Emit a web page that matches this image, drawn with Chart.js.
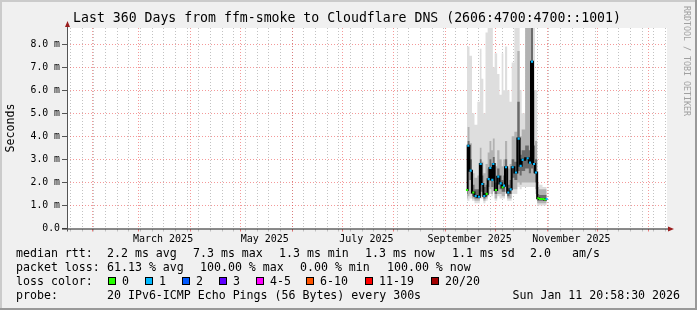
<!DOCTYPE html>
<html>
<head>
<meta charset="utf-8">
<script src="https://cdn.jsdelivr.net/npm/chart.js@4"></script>
<style>
  html, body { margin: 0; padding: 0; background: #f0f0f0; }
  canvas { display: block; }
</style>
</head>
<body>
<canvas id="smoke" width="697" height="310"></canvas>
<script>
// 360 days ending Sun Jan 11 2026 20:58:30
const startTime = Date.UTC(2025, 0, 16, 20, 58, 30);
const DAY = 86400000;
const spanDays = 360;

// days since start where the target answered
const sampleDays = [240.0, 240.8, 242.2, 243.8, 245.2, 247.2, 248.2, 249.2, 250.4, 251.8,
  253.0, 254.0, 255.2, 255.8, 257.4, 258.8, 260.2, 261.4, 262.2, 263.4,
  264.8, 266.2, 267.4, 269.4, 271.0, 272.2, 273.4, 276.4, 277.8, 279.0,
  280.2, 281.4, 282.8, 283.8, 284.8, 285.8, 286.8, 287.8];
// median rtt in ms
const median = [1.67, 3.59, 2.51, 1.56, 1.41, 1.38, 2.80, 1.93, 1.41, 1.50,
  2.14, 2.63, 2.11, 2.80, 1.67, 2.25, 1.96, 1.79, 1.86, 2.66,
  1.56, 1.70, 2.66, 2.43, 3.90, 2.72, 2.98, 3.05, 2.86, 7.24,
  2.80, 2.43, 1.31, 1.28, 1.28, 1.28, 1.26, 1.28];
// lost pings (of 20)
const lost = [0, 1, 1, 0, 1, 1, 1, 1, 1, 0,
  1, 1, 1, 1, 0, 1, 1, 0, 1, 1,
  1, 1, 1, 1, 1, 1, 1, 1, 1, 1,
  1, 1, 0, 0, 0, 0, 0, 1];
// smoke bands (ms)
const darkLo = [1.5, 2.6, 2.1, 1.4, 1.3, 1.3, 1.6, 1.6, 1.3, 1.4,
  1.8, 2.1, 1.8, 2.2, 1.5, 1.9, 1.7, 1.6, 1.6, 2.1,
  1.4, 1.5, 2.2, 2.1, 2.5, 2.3, 2.5, 2.6, 2.4, 2.6,
  2.4, 2.0, 1.2, 1.2, 1.2, 1.2, 1.2, 1.2];
const darkHi = [2.0, 3.8, 3.0, 1.9, 1.7, 1.7, 3.0, 2.3, 1.8, 1.9,
  2.6, 3.0, 2.6, 3.1, 2.0, 2.6, 2.3, 2.1, 2.3, 3.0,
  1.9, 2.1, 3.0, 2.9, 5.5, 3.2, 3.4, 3.6, 3.4, 8.8,
  3.6, 3.0, 1.5, 1.45, 1.45, 1.45, 1.45, 1.45];
const midLo = [1.3, 1.4, 1.5, 1.3, 1.2, 1.2, 1.4, 1.4, 1.2, 1.3,
  1.5, 1.7, 1.5, 1.8, 1.3, 1.5, 1.5, 1.4, 1.4, 1.6,
  1.3, 1.3, 1.7, 1.7, 2.0, 1.9, 2.0, 2.0, 2.0, 2.0,
  2.0, 1.7, 1.1, 1.1, 1.1, 1.1, 1.1, 1.1];
const midHi = [2.6, 4.4, 3.7, 2.4, 2.2, 2.3, 3.5, 2.9, 2.4, 2.8,
  3.3, 3.8, 3.4, 3.9, 2.7, 3.4, 3.0, 2.7, 3.0, 3.8,
  2.6, 2.8, 4.0, 4.2, 7.7, 4.0, 4.3, 8.8, 8.8, 8.8,
  6.0, 3.8, 1.8, 1.7, 1.7, 1.7, 1.7, 1.7];
const lightLo = [1.2, 1.2, 1.3, 1.2, 1.1, 1.1, 1.3, 1.3, 1.1, 1.2,
  1.4, 1.5, 1.4, 1.6, 1.2, 1.4, 1.3, 1.3, 1.3, 1.5,
  1.2, 1.2, 1.5, 1.5, 1.8, 1.7, 1.8, 1.8, 1.8, 1.8,
  1.8, 1.5, 1.0, 1.0, 1.0, 1.0, 1.0, 1.0];
const lightHi = [7.9, 7.9, 7.5, 5.0, 4.5, 5.5, 7.8, 6.5, 5.0, 8.5,
  8.8, 8.8, 8.8, 7.0, 7.6, 6.7, 5.8, 7.6, 6.0, 7.9,
  6.0, 5.5, 7.2, 8.8, 8.8, 6.0, 5.0, 8.8, 8.8, 8.8,
  8.8, 6.0, 2.0, 1.9, 1.9, 1.8, 1.8, 1.8];

const yMajor = [0, 1, 2, 3, 4, 5, 6, 7, 8];
const yLabels = ['0.0', '1.0 m', '2.0 m', '3.0 m', '4.0 m', '5.0 m', '6.0 m', '7.0 m', '8.0 m'];
const yMinor = [0.5, 1.5, 2.5, 3.5, 4.5, 5.5, 6.5, 7.5, 8.5];

const monthLabels = ['March 2025', 'May 2025', 'July 2025', 'September 2025', 'November 2025'];
const monthLabelDates = [Date.UTC(2025, 2, 15, 12), Date.UTC(2025, 4, 15, 12), Date.UTC(2025, 6, 15, 12),
  Date.UTC(2025, 8, 15, 12), Date.UTC(2025, 10, 15, 12)];

const lossLegend = ['0', '1', '2', '3', '4-5', '6-10', '11-19', '20/20'];
const lossColors = ['#26ff00', '#00b8ff', '#0059ff', '#5e00ff', '#ff00ff', '#ff5500', '#ff0000', '#a10000'];

const rttStats = ['2.2 ms avg', '7.3 ms max', '1.3 ms min', '1.3 ms now', '1.1 ms sd', '2.0', 'am/s'];
const lossStats = ['61.13 % avg', '100.00 % max', '0.00 % min', '100.00 % now'];

// x ticks: weekly minor lines, monthly major lines, label ticks mid month
const xTicks = [];
for (let t = Date.UTC(2025, 0, 19); t < startTime + spanDays * DAY; t += 7 * DAY) {
  xTicks.push({ value: (t - startTime) / DAY, kind: 'week', text: '' });
}
for (let m = 1; m <= 12; m++) {
  xTicks.push({ value: (Date.UTC(2025, m, 1) - startTime) / DAY, kind: 'month', text: '' });
}
monthLabels.forEach((l, i) => {
  xTicks.push({ value: (monthLabelDates[i] - startTime) / DAY, kind: 'label', text: l });
});
xTicks.sort((a, b) => a.value - b.value);

const yTicks = yMajor.map((v, i) => ({ value: v, major: true, text: yLabels[i] }))
  .concat(yMinor.map(v => ({ value: v, major: false, text: '' })))
  .sort((a, b) => a.value - b.value);

const pts = arr => sampleDays.map((d, i) => ({ x: d, y: arr[i] }));
const lossIdx = n => n === 0 ? 0 : n === 1 ? 1 : n === 2 ? 2 : n === 3 ? 3 : n <= 5 ? 4 : n <= 10 ? 5 : n <= 19 ? 6 : 7;

const band = (hi, lo, color) => [
  { data: pts(hi), fill: '+1', backgroundColor: color, borderWidth: 0, borderColor: 'transparent', pointRadius: 0, stepped: 'middle' },
  { data: pts(lo), fill: false, borderWidth: 0, borderColor: 'transparent', pointRadius: 0, stepped: 'middle' }
];

const MONO = '"DejaVu Sans Mono", monospace';

const decor = {
  id: 'decor',
  beforeDraw(chart) {
    const { ctx, chartArea: a, width: w, height: h } = chart;
    ctx.save();
    ctx.fillStyle = '#f0f0f0';
    ctx.fillRect(0, 0, w, h);
    ctx.fillStyle = '#cbcbcb';
    ctx.fillRect(0, 0, w, 2);
    ctx.fillRect(0, 0, 2, h);
    ctx.fillStyle = '#999999';
    ctx.fillRect(0, h - 2, w, 2);
    ctx.fillRect(w - 2, 0, 2, h);
    ctx.fillStyle = '#ffffff';
    ctx.fillRect(a.left, a.top, a.right - a.left, a.bottom - a.top);
    ctx.restore();
  },
  afterDatasetsDraw(chart) {
    const { ctx, chartArea: a } = chart;
    ctx.save();
    // axes
    ctx.strokeStyle = '#1f1f1f';
    ctx.lineWidth = 1;
    ctx.beginPath();
    ctx.moveTo(a.left - 5, a.bottom + 0.5);
    ctx.lineTo(a.right + 2, a.bottom + 0.5);
    ctx.stroke();
    ctx.strokeStyle = '#555555';
    ctx.beginPath();
    ctx.moveTo(a.left + 0.5, a.bottom + 3);
    ctx.lineTo(a.left + 0.5, a.top - 2);
    ctx.stroke();
    ctx.fillStyle = '#9a1e1e';
    ctx.beginPath();
    ctx.moveTo(a.left - 2, a.top - 1);
    ctx.lineTo(a.left + 3, a.top - 1);
    ctx.lineTo(a.left + 0.5, a.top - 7);
    ctx.closePath();
    ctx.fill();
    ctx.beginPath();
    ctx.moveTo(a.right + 1, a.bottom - 2);
    ctx.lineTo(a.right + 1, a.bottom + 3);
    ctx.lineTo(a.right + 7, a.bottom + 0.5);
    ctx.closePath();
    ctx.fill();
    ctx.restore();
  },
  afterDraw(chart) {
    const { ctx } = chart;
    ctx.save();
    ctx.fillStyle = '#000';
    ctx.textBaseline = 'middle';
    // title
    ctx.font = '13.2px ' + MONO;
    ctx.textAlign = 'center';
    ctx.fillText('Last 360 Days from ffm-smoke to Cloudflare DNS (2606:4700:4700::1001)', 347, 19);
    // y axis title
    ctx.font = '11.6px ' + MONO;
    ctx.save();
    ctx.translate(10.5, 128);
    ctx.rotate(-Math.PI / 2);
    ctx.fillText('Seconds', 0, 0);
    ctx.restore();
    // watermark
    ctx.save();
    ctx.fillStyle = '#a0a0a0';
    ctx.font = '8.3px ' + MONO;
    ctx.textAlign = 'left';
    ctx.translate(686, 6);
    ctx.rotate(Math.PI / 2);
    ctx.fillText('RRDTOOL / TOBI OETIKER', 0, 0);
    ctx.restore();
    // legend rows
    ctx.font = '11.6px ' + MONO;
    ctx.textAlign = 'left';
    ctx.fillText('median rtt:', 16, 254);
    [107, 193, 279, 365, 452, 530, 572].forEach((x, i) => ctx.fillText(rttStats[i], x, 254));
    ctx.fillText('packet loss:', 16, 268);
    [107, 200, 300, 387].forEach((x, i) => ctx.fillText(lossStats[i], x, 268));
    ctx.fillText('loss color:', 16, 282);
    const boxX = [108, 145, 182, 219, 256, 306, 365, 431];
    boxX.forEach((x, i) => {
      ctx.fillStyle = '#000';
      ctx.fillRect(x, 277, 8, 8);
      ctx.fillStyle = lossColors[i];
      ctx.fillRect(x + 1, 278, 6, 6);
      ctx.fillStyle = '#000';
      ctx.fillText(lossLegend[i], x + 14, 282);
    });
    ctx.fillText('probe:', 16, 296);
    ctx.fillText('20 IPv6-ICMP Echo Pings (56 Bytes) every 300s', 107, 296);
    ctx.textAlign = 'right';
    ctx.fillText('Sun Jan 11 20:58:30 2026', 680, 296);
    ctx.restore();
  }
};

new Chart(document.getElementById('smoke'), {
  type: 'line',
  data: {
    datasets: [
      { data: pts(median), showLine: false, pointStyle: 'rect', pointRadius: 1.5, borderWidth: 0,
        pointBackgroundColor: lost.map(n => lossColors[lossIdx(n)]) },
      { data: pts(median), borderColor: '#000000', borderWidth: 2, pointRadius: 0, stepped: 'middle', fill: false },
      ...band(darkHi, darkLo, '#6a6a6a'),
      ...band(midHi, midLo, '#b2b2b2'),
      ...band(lightHi, lightLo, '#dedede')
    ]
  },
  options: {
    responsive: false,
    animation: false,
    layout: { padding: { left: 0, top: 28, right: 30, bottom: 61.5 } },
    plugins: { legend: { display: false }, tooltip: { enabled: false } },
    scales: {
      x: {
        type: 'linear', min: 0, max: spanDays,
        afterBuildTicks: s => { s.ticks = xTicks.map(t => ({ value: t.value })); },
        afterFit: s => { s.height = 20; },
        ticks: {
          autoSkip: false, maxRotation: 0, padding: 2,
          font: { family: MONO, size: 10 }, color: '#000',
          callback: (v, i) => xTicks[i].text
        },
        border: { display: false, dash: [1, 2] },
        grid: {
          lineWidth: 1, tickLength: 3,
          color: c => xTicks[c.index].kind === 'month' ? 'rgba(235,70,70,0.55)' :
            xTicks[c.index].kind === 'week' ? 'rgba(120,120,120,0.45)' : 'transparent',
          tickColor: c => xTicks[c.index].kind === 'month' ? 'rgba(235,70,70,0.7)' :
            xTicks[c.index].kind === 'week' ? 'rgba(120,120,120,0.4)' : 'transparent'
        }
      },
      y: {
        min: 0, max: 8.7,
        afterBuildTicks: s => { s.ticks = yTicks.map(t => ({ value: t.value })); },
        afterFit: s => { s.width = 67; },
        ticks: {
          padding: 2, font: { family: MONO, size: 9.8 }, color: '#000',
          callback: (v, i) => yTicks[i].text
        },
        border: { display: false, dash: [1, 2] },
        grid: {
          lineWidth: 1, tickLength: 5,
          color: c => c.index === 0 ? 'transparent' :
            yTicks[c.index].major ? 'rgba(235,70,70,0.55)' : 'rgba(120,120,120,0.45)',
          tickColor: c => yTicks[c.index].major ? '#555555' : 'transparent'
        }
      }
    }
  },
  plugins: [decor]
});
</script>
</body>
</html>
